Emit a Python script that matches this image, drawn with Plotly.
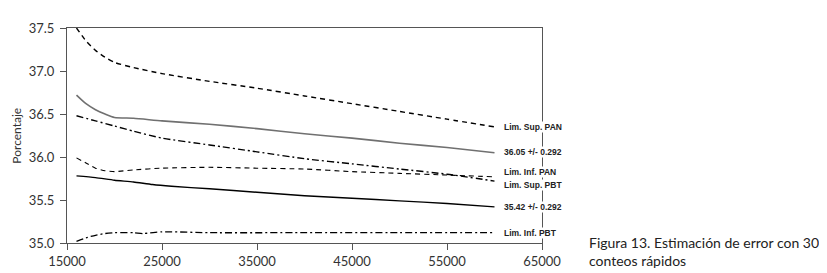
import plotly.graph_objects as go

# ---- data ----
x_sup_pan = [16000, 17000, 18000, 19000, 20000, 22000, 25000, 30000, 35000, 40000, 45000, 50000, 55000, 60000]
y_sup_pan = [37.50, 37.35, 37.24, 37.16, 37.10, 37.04, 36.97, 36.88, 36.80, 36.71, 36.62, 36.53, 36.44, 36.35]

x_est_pan = [16000, 17000, 18000, 19000, 20000, 22000, 25000, 30000, 35000, 40000, 45000, 50000, 55000, 60000]
y_est_pan = [36.72, 36.62, 36.55, 36.50, 36.46, 36.45, 36.42, 36.38, 36.33, 36.27, 36.22, 36.16, 36.11, 36.05]

x_inf_pan = [16000, 17000, 18000, 19000, 20000, 22000, 25000, 30000, 35000, 40000, 45000, 50000, 55000, 60000]
y_inf_pan = [35.99, 35.93, 35.87, 35.84, 35.83, 35.85, 35.87, 35.88, 35.87, 35.86, 35.83, 35.81, 35.79, 35.77]

x_sup_pbt = [16000, 18000, 20000, 22000, 25000, 30000, 35000, 40000, 45000, 50000, 55000, 60000]
y_sup_pbt = [36.48, 36.42, 36.36, 36.30, 36.22, 36.14, 36.06, 35.98, 35.92, 35.86, 35.80, 35.72]

x_est_pbt = [16000, 18000, 20000, 22000, 24000, 26000, 30000, 35000, 40000, 45000, 50000, 55000, 60000]
y_est_pbt = [35.78, 35.76, 35.73, 35.71, 35.68, 35.66, 35.63, 35.59, 35.55, 35.52, 35.49, 35.46, 35.42]

x_inf_pbt = [16000, 17000, 18000, 19000, 20000, 22000, 23000, 25000, 30000, 40000, 50000, 60000]
y_inf_pbt = [35.02, 35.06, 35.09, 35.11, 35.12, 35.12, 35.11, 35.13, 35.12, 35.12, 35.12, 35.12]

labels = ["Lim. Sup. PAN", "36.05 +/- 0.292", "Lim. Inf. PAN", "Lim. Sup. PBT", "35.42 +/- 0.292", "Lim. Inf. PBT"]
label_y = [36.35, 36.06, 35.82, 35.68, 35.42, 35.12]
label_x = 60900

x_ticks = [15000, 25000, 35000, 45000, 55000, 65000]
y_ticks = [35.0, 35.5, 36.0, 36.5, 37.0, 37.5]

caption = "Figura 13. Estimación de error con 30<br>conteos rápidos"
y_title = "Porcentaje"

fig = go.Figure()

series = [
    (x_sup_pan, y_sup_pan, dict(color="black", width=1.4, dash="5px,4px")),
    (x_est_pan, y_est_pan, dict(color="#707070", width=1.6)),
    (x_inf_pan, y_inf_pan, dict(color="black", width=1.1, dash="5px,4px")),
    (x_sup_pbt, y_sup_pbt, dict(color="black", width=1.4, dash="7px,3px,2px,3px")),
    (x_est_pbt, y_est_pbt, dict(color="black", width=1.4)),
    (x_inf_pbt, y_inf_pbt, dict(color="black", width=1.3, dash="7px,3px,2px,3px")),
]
for xs, ys, ln in series:
    fig.add_trace(go.Scatter(x=xs, y=ys, mode="lines", line=dict(shape="spline", smoothing=0.6, **ln),
                             showlegend=False, hoverinfo="skip"))

for t, yv in zip(labels, label_y):
    fig.add_annotation(x=label_x, y=yv, xref="x", yref="y", text="<b>" + t + "</b>",
                       showarrow=False, xanchor="left", yanchor="middle",
                       font=dict(family="Liberation Sans", size=8.5, color="#222"),
                       bgcolor="white", borderpad=0)

fig.add_annotation(x=1.094, y=-0.04, xref="paper", yref="paper", text=caption,
                   showarrow=False, xanchor="left", yanchor="middle", align="left",
                   font=dict(family="Lato", size=14, color="#222"))

fig.add_annotation(x=-0.107, y=0.5, xref="paper", yref="paper", text=y_title,
                   showarrow=False, xanchor="center", yanchor="middle", textangle=-90,
                   font=dict(family="Lato", size=12, color="#333"))

axis_font = dict(family="Lato", size=13, color="#333")
fig.update_layout(
    width=827, height=273,
    margin=dict(l=59, r=293, t=12, b=31),
    paper_bgcolor="white", plot_bgcolor="white",
    xaxis=dict(range=[15000, 65000], tickvals=x_ticks, ticktext=[str(v) for v in x_ticks],
               showgrid=False, zeroline=False, showline=True, linecolor="#555", linewidth=1,
               mirror=True, ticks="outside", ticklen=6, tickcolor="#555", tickfont=axis_font),
    yaxis=dict(range=[35.0, 37.5], tickvals=y_ticks, ticktext=["%.1f" % v for v in y_ticks],
               showgrid=False, zeroline=False, showline=True, linecolor="#555", linewidth=1,
               mirror=True, ticks="outside", ticklen=6, tickcolor="#555", tickfont=axis_font,
               ticklabelstandoff=3),
)

fig.write_html("out.html")
